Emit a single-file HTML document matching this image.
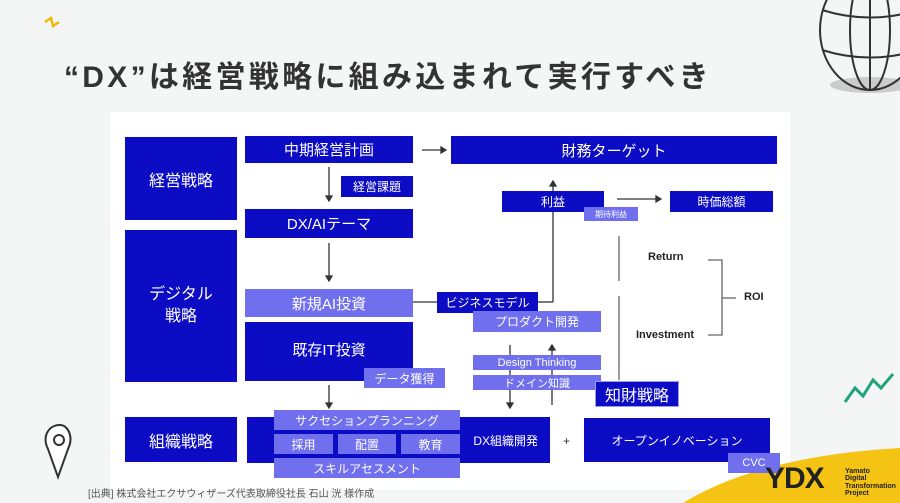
<!DOCTYPE html>
<html><head><meta charset="utf-8"><style>
body{margin:0;width:900px;height:503px;overflow:hidden;background:#f4f5f5;font-family:"Liberation Sans","Noto Sans CJK JP",sans-serif;position:relative}
.b{position:absolute;display:flex;align-items:center;justify-content:center;color:#fff;box-sizing:border-box;white-space:nowrap}
.d{background:#0c0cc4}
.l{background:#7070ee}
.t{position:absolute;white-space:nowrap}
</style></head><body>
<svg style="position:absolute;left:0;top:0" width="900" height="503">
<path d="M45 22 l6 -4 l2 8 l6 -4" stroke="#f2b705" stroke-width="2.5" fill="none"/>
<ellipse cx="870" cy="85" rx="40" ry="8" fill="#ccc"/>
<g stroke="#333" stroke-width="2" fill="none">
<ellipse cx="870" cy="30" rx="50" ry="60"/><ellipse cx="870" cy="30" rx="20" ry="60"/>
<line x1="870" y1="-30" x2="870" y2="90"/><path d="M822 10 Q870 25 918 10"/><path d="M822 50 Q870 65 918 50"/>
</g>
<path d="M845 402 l10 -14 l8 8 l10 -16 l8 8 l12 -14" stroke="#1fa37a" stroke-width="3" fill="none"/>
<path d="M60 425 c-12 0 -18 12 -12 24 l10 28 l10 -28 c6 -12 0 -24 -8 -24z" stroke="#333" stroke-width="2" fill="#fff"/>
<circle cx="59" cy="440" r="5" stroke="#333" stroke-width="2" fill="none"/>
<rect x="110" y="112" width="680" height="378" fill="#fff"/>
<path d="M683 503 Q760 456 900 448 L900 503Z" fill="#f5c314"/>
<g stroke="#333" stroke-width="1.3" fill="#333">
<line x1="422" y1="150" x2="442" y2="150"/><path d="M446 150 l-5 -3 v6z"/>
<line x1="329" y1="167" x2="329" y2="196"/><path d="M329 201 l-3 -5 h6z"/>
<line x1="329" y1="243" x2="329" y2="276"/><path d="M329 281 l-3 -5 h6z"/>
<line x1="329" y1="385" x2="329" y2="403"/><path d="M329 408 l-3 -5 h6z"/>
<line x1="413" y1="302" x2="437" y2="302"/>
<line x1="538" y1="302" x2="553" y2="302"/><line x1="553" y1="302" x2="553" y2="186"/><path d="M553 181 l-3 5 h6z"/>
<line x1="617" y1="199" x2="656" y2="199"/><path d="M661 199 l-5 -3 v6z"/>
<line x1="510" y1="345" x2="510" y2="403"/><path d="M510 408 l-3 -5 h6z"/>
<line x1="552" y1="350" x2="552" y2="405"/><path d="M552 345 l-3 5 h6z"/>
</g>
<g stroke="#666" stroke-width="1.3" fill="none">
<line x1="619" y1="236" x2="619" y2="281"/><line x1="619" y1="296" x2="619" y2="380"/>
<path d="M708 260 h14 v75 h-14"/><line x1="722" y1="298" x2="736" y2="298"/>
</g>
</svg>
<div class="t" style="left:64px;top:52px;font-size:30px;font-weight:bold;color:#333;letter-spacing:3.3px">“DX”は経営戦略に組み込まれて実行すべき</div>
<div class="b d" style="left:125px;top:137px;width:112px;height:83px;font-size:16px">経営戦略</div>
<div class="b d" style="left:125px;top:230px;width:112px;height:152px;font-size:16px;line-height:1.4;text-align:center;white-space:normal">デジタル<br>戦略</div>
<div class="b d" style="left:125px;top:417px;width:112px;height:45px;font-size:16px">組織戦略</div>
<div class="b d" style="left:245px;top:136px;width:168px;height:27px;font-size:15px">中期経営計画</div>
<div class="b d" style="left:341px;top:176px;width:72px;height:21px;font-size:12px">経営課題</div>
<div class="b d" style="left:245px;top:209px;width:168px;height:29px;font-size:15px">DX/AIテーマ</div>
<div class="b l" style="left:245px;top:289px;width:168px;height:28px;font-size:15px">新規AI投資</div>
<div class="b d" style="left:245px;top:322px;width:168px;height:59px;font-size:15px;padding-bottom:4px">既存IT投資</div>
<div class="b l" style="left:364px;top:368px;width:81px;height:20px;font-size:12px">データ獲得</div>
<div class="b d" style="left:247px;top:417px;width:303px;height:46px;font-size:12px;justify-content:flex-end;padding-right:12px">DX組織開発</div>
<div class="b l" style="left:274px;top:410px;width:186px;height:20px;font-size:12px">サクセションプランニング</div>
<div class="b l" style="left:274px;top:434px;width:59px;height:20px;font-size:12px">採用</div>
<div class="b l" style="left:338px;top:434px;width:58px;height:20px;font-size:12px">配置</div>
<div class="b l" style="left:401px;top:434px;width:59px;height:20px;font-size:12px">教育</div>
<div class="b l" style="left:274px;top:458px;width:186px;height:20px;font-size:12px">スキルアセスメント</div>
<div class="b d" style="left:451px;top:136px;width:326px;height:28px;font-size:15px">財務ターゲット</div>
<div class="b d" style="left:502px;top:191px;width:102px;height:21px;font-size:12px">利益</div>
<div class="b l" style="left:584px;top:207px;width:54px;height:14px;font-size:8px">期待利益</div>
<div class="b d" style="left:670px;top:191px;width:103px;height:21px;font-size:12px">時価総額</div>
<div class="b d" style="left:437px;top:292px;width:101px;height:21px;font-size:12px">ビジネスモデル</div>
<div class="b l" style="left:473px;top:311px;width:128px;height:21px;font-size:12px">プロダクト開発</div>
<div class="b l" style="left:473px;top:355px;width:128px;height:15px;font-size:11px">Design Thinking</div>
<div class="b l" style="left:473px;top:375px;width:128px;height:15px;font-size:11px">ドメイン知識</div>
<div class="b d" style="left:595px;top:381px;width:84px;height:26px;font-size:16px;border:1px solid #9a9af5">知財戦略</div>
<div class="b d" style="left:584px;top:418px;width:186px;height:44px;font-size:12px">オープンイノベーション</div>
<div class="b l" style="left:728px;top:453px;width:52px;height:20px;font-size:11px">CVC</div>
<div class="t" style="left:563px;top:434px;font-size:12px;color:#333">+</div>
<div class="t" style="left:648px;top:251px;font-size:11px;font-weight:bold;color:#222">Return</div>
<div class="t" style="left:636px;top:329px;font-size:11px;font-weight:bold;color:#222">Investment</div>
<div class="t" style="left:744px;top:291px;font-size:11px;font-weight:bold;color:#222">ROI</div>
<div class="t" style="left:88px;top:485px;font-size:10px;color:#555">[出典] 株式会社エクサウィザーズ代表取締役社長 石山 洸 様作成</div>
<div class="t" style="left:765px;top:462px;font-size:30px;font-weight:900;color:#222;letter-spacing:-1px">YDX</div>
<div class="t" style="left:845px;top:468px;font-size:7px;font-weight:bold;color:#222;line-height:1.05">Yamato<br>Digital<br>Transformation<br>Project</div>
</body></html>
